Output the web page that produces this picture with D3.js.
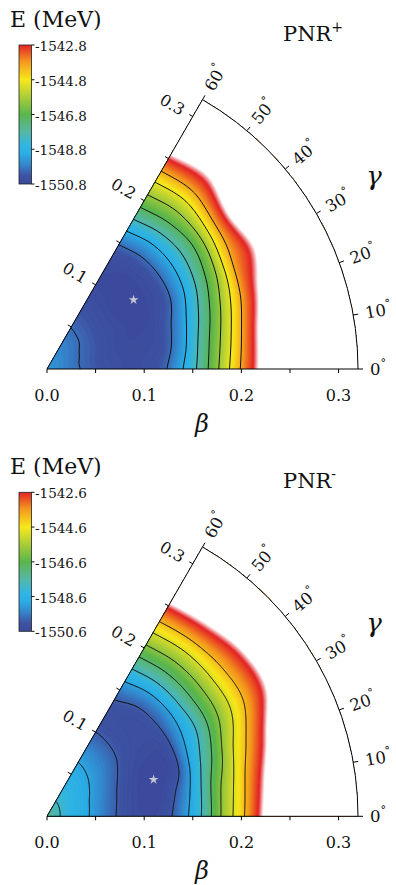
<!DOCTYPE html>
<html><head><meta charset="utf-8">
<script src="https://cdn.jsdelivr.net/npm/d3@7"></script>
<style>body{margin:0;background:#fff}svg{display:block}</style>
</head><body>
<svg id="chart" width="396" height="885"></svg>
<script>
// ---------------- data ----------------
const betaValues = [0.00,0.02,0.04,0.06,0.08,0.10,0.12,0.14,0.16,0.18,0.20,0.22,0.24,0.26,0.28,0.30,0.32];
const gammaValues = [0,10,20,30,40,50,60];

// E (MeV) on the (gamma row, beta column) grid, PNR+
const energyPlus = [
  [-1549.4,-1549.75,-1550.1,-1550.4,-1550.6,-1550.55,-1550.15,-1549.0,-1547.5,-1545.7,-1543.9,-1542.1,-1540.3,-1538.5,-1536.7,-1535.0,-1533.2],
  [-1549.4,-1549.75,-1550.12,-1550.45,-1550.62,-1550.62,-1550.4,-1549.4,-1547.8,-1546.1,-1544.3,-1542.4,-1540.6,-1538.8,-1537.0,-1535.2,-1533.4],
  [-1549.4,-1549.73,-1550.08,-1550.4,-1550.65,-1550.7,-1550.55,-1549.8,-1548.45,-1546.85,-1545.1,-1543.3,-1541.6,-1539.8,-1538.0,-1536.2,-1534.4],
  [-1549.4,-1549.7,-1550.03,-1550.35,-1550.6,-1550.75,-1550.7,-1550.3,-1549.15,-1547.67,-1546.0,-1544.0,-1542.8,-1541.3,-1539.6,-1537.8,-1536.0],
  [-1549.4,-1549.68,-1549.95,-1550.3,-1550.6,-1550.8,-1550.75,-1550.45,-1549.45,-1548.15,-1546.7,-1544.75,-1542.8,-1541.0,-1539.2,-1537.4,-1535.6],
  [-1549.4,-1549.65,-1549.9,-1550.25,-1550.55,-1550.75,-1550.75,-1550.45,-1549.5,-1548.15,-1546.7,-1545.3,-1543.7,-1542.2,-1540.5,-1538.8,-1537.0],
  [-1549.4,-1549.62,-1549.85,-1550.2,-1550.5,-1550.7,-1550.65,-1550.35,-1549.25,-1547.85,-1546.45,-1545.15,-1543.6,-1541.9,-1540.2,-1538.4,-1536.6]
];
// E (MeV), PNR-
const energyMinus = [
  [-1547.4,-1548.3,-1548.88,-1549.62,-1550.25,-1550.5,-1550.35,-1549.35,-1547.9,-1545.9,-1544.3,-1542.33,-1540.5,-1538.7,-1536.9,-1535.1,-1533.3],
  [-1547.4,-1548.28,-1548.85,-1549.58,-1550.2,-1550.55,-1550.5,-1549.67,-1548.1,-1546.15,-1544.6,-1542.8,-1541.0,-1539.2,-1537.4,-1535.6,-1533.8],
  [-1547.4,-1548.25,-1548.8,-1549.46,-1550.1,-1550.5,-1550.6,-1550.25,-1548.63,-1547.03,-1545.3,-1543.84,-1542.2,-1540.3,-1538.5,-1536.7,-1534.9],
  [-1547.4,-1548.2,-1548.7,-1549.28,-1549.9,-1550.35,-1550.5,-1550.35,-1549.1,-1547.8,-1546.25,-1544.9,-1543.6,-1542.2,-1540.5,-1538.7,-1536.9],
  [-1547.4,-1548.15,-1548.62,-1549.1,-1549.65,-1550.15,-1550.35,-1550.25,-1549.35,-1547.86,-1546.45,-1545.07,-1543.75,-1542.4,-1540.6,-1538.8,-1537.0],
  [-1547.4,-1548.1,-1548.54,-1548.98,-1549.5,-1550.05,-1550.3,-1550.2,-1549.3,-1547.86,-1546.45,-1545.07,-1543.55,-1541.9,-1540.1,-1538.3,-1536.5],
  [-1547.4,-1548.06,-1548.5,-1548.9,-1549.43,-1550.0,-1550.3,-1549.95,-1549.0,-1547.65,-1546.25,-1544.85,-1543.3,-1541.5,-1539.7,-1537.9,-1536.1]
];

const contourLevels = [-1550,-1549,-1548,-1547,-1546,-1545,-1544];
const colorbarTicksPlus = [-1542.8,-1544.8,-1546.8,-1548.8,-1550.8];
const colorbarTicksMinus = [-1542.6,-1544.6,-1546.6,-1548.6,-1550.6];
const minimumPlus = [0.114, 38.6];   // [beta, gamma]
const minimumMinus = [0.116, 19];
const betaTicks = [0,0.05,0.10,0.15,0.20,0.25,0.30];
const betaTickLabels = ["0.0","0.1","0.2","0.3"];
const betaLabelValues = [0,0.1,0.2,0.3];
const gammaTicks = [0,10,20,30,40,50,60];
const betaMax = 0.32;

// ---------------- styles / layout ----------------
const FONT = "'DejaVu Serif', 'Liberation Serif', serif";
const colorStops = [0,0.06,0.14,0.22,0.28,0.38,0.5,0.62,0.75,0.88,1];
const colorRange = ["#3b4a9c","#3e53a3","#3586cc","#2aaee6","#31b5e2","#55b8a2","#5ab64b","#a6cc3a","#f8e81c","#f4981f","#e42327"];
const cmap = d3.scaleLinear().domain(colorStops).range(colorRange).clamp(true);

const X0 = 47, Y0 = 369;
const rScale = d3.scaleLinear().domain([0, betaMax]).range([0, 311]);
const svg = d3.select("#chart");

function catmull(p0,p1,p2,p3,t){
  return p1 + 0.5*t*(p2-p0 + t*(2*p0-5*p1+4*p2-p3 + t*(3*(p1-p2)+p3-p0)));
}
function makeSampler(grid){
  const nb = betaValues.length, ng = gammaValues.length;
  const db = betaValues[1]-betaValues[0], dg = gammaValues[1]-gammaValues[0];
  const cl = (v,a,b)=>Math.max(a,Math.min(b,v));
  return (beta, gamma) => {
    const fb = cl((beta-betaValues[0])/db, 0, nb-1), fg = cl((gamma-gammaValues[0])/dg, 0, ng-1);
    const ib = Math.min(Math.floor(fb), nb-2), ig = Math.min(Math.floor(fg), ng-2);
    const tb = fb-ib, tg = fg-ig;
    const r = [];
    for (let k=-1;k<=2;k++){
      const row = grid[cl(ig+k,0,ng-1)];
      const v = m => row[cl(ib+m,0,nb-1)];
      r.push(catmull(v(-1),v(0),v(1),v(2),tb));
    }
    return catmull(r[0],r[1],r[2],r[3],tg);
  };
}

const panels = [
  {energy: energyPlus, ticks: colorbarTicksPlus, eMin:-1550.8, eMax:-1542.8, sup:"+", minimum: minimumPlus, dy: 0},
  {energy: energyMinus, ticks: colorbarTicksMinus, eMin:-1550.6, eMax:-1542.6, sup:"-", minimum: minimumMinus, dy: 447.3}
];

panels.forEach((p, pi) => {
  const g = svg.append("g").attr("transform", `translate(0,${p.dy})`);
  const sample = makeSampler(p.energy);
  const R = rScale(betaMax);
  const a60 = Math.PI/3;
  const ex = R*Math.cos(a60), ey = -R*Math.sin(a60);

  const clipId = "wedge"+pi;
  g.append("clipPath").attr("id", clipId)
    .append("path").attr("d", `M0,0 L${R},0 A${R},${R} 0 0 0 ${ex},${ey} Z`);

  const plot = g.append("g").attr("transform", `translate(${X0},${Y0})`);
  const field = plot.append("g").attr("clip-path", `url(#${clipId})`);

  const gx0 = -4, gy0 = -276, nx = 322, ny = 282;
  const values = new Float64Array(nx*ny);
  for (let j=0;j<ny;j++){
    for (let i=0;i<nx;i++){
      const X = rScale.invert(gx0+i), Y = rScale.invert(-(gy0+j));
      const beta = Math.hypot(X,Y);
      const gam = Math.atan2(Y,X)*180/Math.PI;
      values[j*nx+i] = sample(beta, gam);
    }
  }
  const span = p.eMax - p.eMin;
  const colorOf = e => cmap((e - p.eMin)/span);
  const fade = 0.5;
  const thresholds = [], fills = [];
  for (let k=1;k<80;k++){ const t = p.eMin + k*0.1; thresholds.push(t); fills.push(colorOf(t+0.05)); }
  for (let k=0;k<10;k++){ const t = p.eMax + k*0.05; thresholds.push(t);
    fills.push(d3.interpolateRgb(colorRange[colorRange.length-1], "#ffffff")((k+0.5)/10)); }
  thresholds.push(p.eMax + fade); fills.push("#ffffff");

  const contours = d3.contours().size([nx, ny]).smooth(true).thresholds(thresholds)(Array.from(values));
  const path = d3.geoPath();
  field.append("rect").attr("x", -5).attr("y", -280).attr("width", 330).attr("height", 290)
    .attr("fill", colorOf(p.eMin));
  const gridG = field.append("g").attr("transform", `translate(${gx0-0.5},${gy0-0.5})`);
  gridG.selectAll("path.band").data(contours).join("path").attr("class","band")
    .attr("d", path).attr("fill", (d,i)=>fills[i]).attr("stroke", (d,i)=>fills[i]).attr("stroke-width", 0.3);

  const lines = d3.contours().size([nx, ny]).smooth(true).thresholds(contourLevels)(Array.from(values));
  gridG.selectAll("path.line").data(lines).join("path").attr("class","line")
    .attr("d", path).attr("fill","none").attr("stroke","#111").attr("stroke-width",1);

  const mb = p.minimum[0], mg = p.minimum[1]*Math.PI/180;
  plot.append("path").attr("d", d3.symbol().type(d3.symbolStar).size(30)())
    .attr("transform", `translate(${rScale(mb*Math.cos(mg))},${-rScale(mb*Math.sin(mg))})`)
    .attr("fill", "#c4c4d2");

  const ax = plot.append("g").attr("stroke","#000").attr("stroke-width",1).attr("fill","none");
  ax.append("line").attr("x1",0).attr("y1",0).attr("x2",R).attr("y2",0);
  ax.append("line").attr("x1",0).attr("y1",0).attr("x2",ex).attr("y2",ey);
  ax.append("path").attr("d", `M${R},0 A${R},${R} 0 0 0 ${ex},${ey}`);
  betaTicks.forEach(b => {
    ax.append("line").attr("x1", rScale(b)).attr("x2", rScale(b)).attr("y1",0).attr("y2",4);
  });
  const nxv = -Math.sin(a60), nyv = -Math.cos(a60);
  betaTicks.slice(1).forEach(b => {
    const px = rScale(b)*Math.cos(a60), py = -rScale(b)*Math.sin(a60);
    ax.append("line").attr("x1",px).attr("y1",py).attr("x2",px+nxv*4).attr("y2",py+nyv*4);
  });
  gammaTicks.forEach(gd => {
    const a = gd*Math.PI/180;
    ax.append("line").attr("x1",R*Math.cos(a)).attr("y1",-R*Math.sin(a))
      .attr("x2",(R+5)*Math.cos(a)).attr("y2",-(R+5)*Math.sin(a));
  });

  const txt = plot.append("g").attr("font-family", FONT).attr("fill","#111");
  betaLabelValues.forEach((b,i) => {
    txt.append("text").attr("x", rScale(b)).attr("y", 32).attr("text-anchor","middle")
      .attr("font-size", 16).text(betaTickLabels[i]);
  });
  betaLabelValues.slice(1).forEach((b,i) => {
    const px = rScale(b)*Math.cos(a60) + nxv*11, py = -rScale(b)*Math.sin(a60) + nyv*11;
    txt.append("text").attr("transform", `translate(${px},${py}) rotate(30)`)
      .attr("text-anchor","end").attr("dominant-baseline","central").attr("font-size",16)
      .text(betaTickLabels[i+1]);
  });
  gammaTicks.forEach(gd => {
    const a = gd*Math.PI/180, rr = R + 12;
    const t = txt.append("text").attr("transform", `translate(${rr*Math.cos(a)},${-rr*Math.sin(a)}) rotate(${-gd})`)
      .attr("dominant-baseline","central").attr("font-size",16.5);
    t.append("tspan").text(gd);
    t.append("tspan").attr("font-size",11).attr("dy",-6).text("°");
  });
  txt.append("text").attr("x", 155).attr("y", 63).attr("text-anchor","middle")
    .attr("font-size", 24).attr("font-style","italic").text("β");
  txt.append("text").attr("x", 327).attr("y", -184).attr("text-anchor","middle")
    .attr("font-size", 26).attr("font-style","italic").text("γ");

  const head = g.append("g").attr("font-family", FONT).attr("fill","#111");
  head.append("text").attr("x", 10).attr("y", 27).attr("font-size", 22).text("E (MeV)");
  const pt = head.append("text").attr("x", 283).attr("y", 40.5).attr("font-size", 21);
  pt.append("tspan").text("PNR");
  pt.append("tspan").attr("font-size", 14).attr("dy", -9).text(p.sup);

  const cbX = 19, cbW = 12.5, cbTop = 45, cbBot = 184;
  const gradId = "grad"+pi;
  const grad = g.append("defs").append("linearGradient").attr("id", gradId)
    .attr("x1",0).attr("y1",1).attr("x2",0).attr("y2",0);
  colorStops.forEach((s,i)=> grad.append("stop").attr("offset", s).attr("stop-color", colorRange[i]));
  g.append("rect").attr("x",cbX).attr("y",cbTop).attr("width",cbW).attr("height",cbBot-cbTop)
    .attr("fill",`url(#${gradId})`).attr("stroke","#222").attr("stroke-width",0.8);
  const cbScale = d3.scaleLinear().domain([p.eMin, p.eMax]).range([cbBot, cbTop]);
  const cbAxis = g.append("g").attr("transform", `translate(${cbX+cbW},0)`);
  p.ticks.forEach(v => {
    cbAxis.append("line").attr("x1",0).attr("x2",3).attr("y1",cbScale(v)).attr("y2",cbScale(v))
      .attr("stroke","#111").attr("stroke-width",1);
    cbAxis.append("text").attr("x",3.5).attr("y",cbScale(v)+1).attr("dominant-baseline","central")
      .attr("font-family",FONT).attr("font-size",13.5).attr("fill","#111").text(v.toFixed(1));
  });
});
</script>
</body></html>
